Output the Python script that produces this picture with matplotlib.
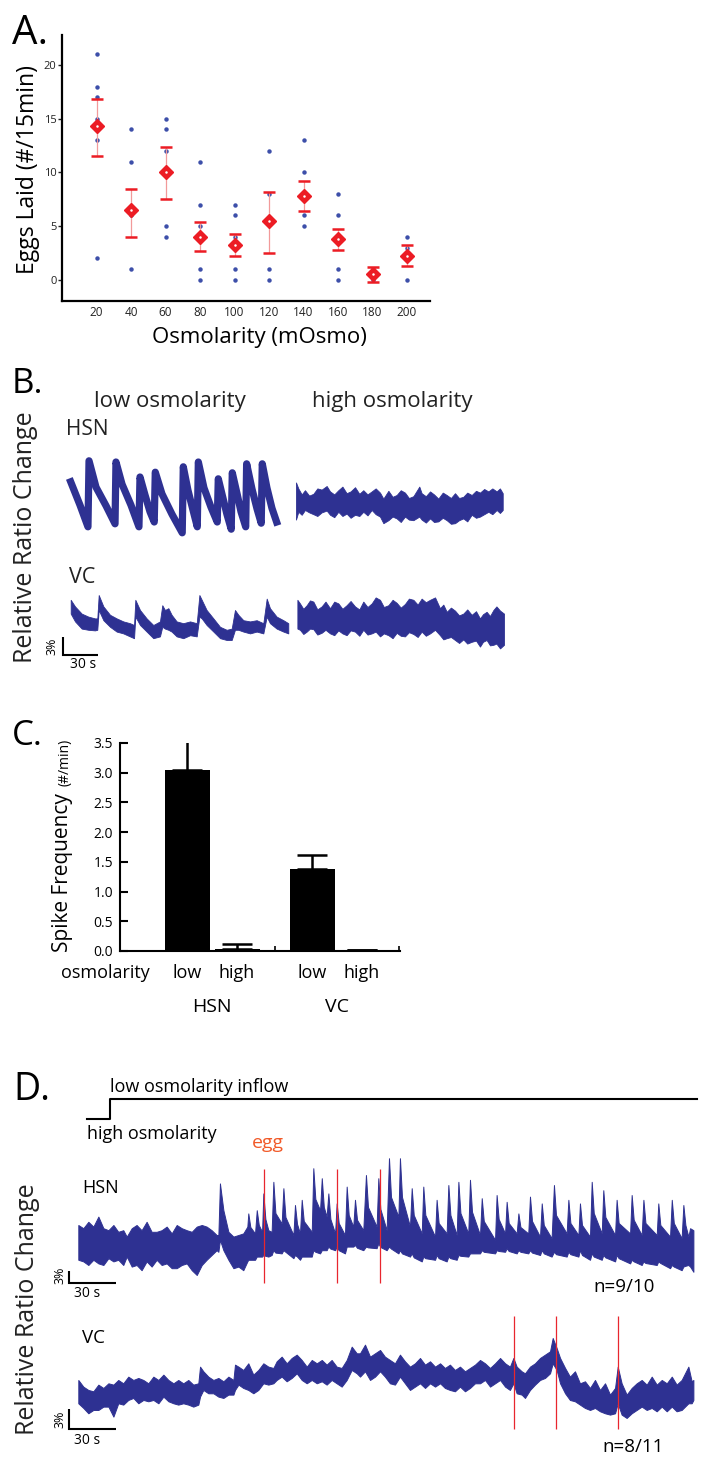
import numpy as np
import matplotlib
matplotlib.use('Agg')
import matplotlib.pyplot as plt
from matplotlib.transforms import blended_transform_factory

# ---- A. eggs laid vs osmolarity ----
osm = [20, 40, 60, 80, 100, 120, 140, 160, 180, 200]
eggs = [[21, 18, 17, 15, 14, 13, 2],
        [14, 11, 6, 1],
        [15, 14, 12, 5, 4],
        [11, 7, 5, 4, 1, 0],
        [7, 6, 4, 1, 0],
        [12, 8, 1, 0],
        [13, 10, 8, 6, 5],
        [8, 6, 1, 0],
        [1, 0],
        [4, 3, 0]]
egg_mean = [14.3, 6.5, 10.0, 4.0, 3.2, 5.5, 7.8, 3.8, 0.5, 2.2]
egg_lo = [11.5, 4.0, 7.55, 2.65, 2.2, 2.45, 6.4, 2.8, -0.2, 1.25]
egg_hi = [16.8, 8.5, 12.4, 5.35, 4.3, 8.2, 9.2, 4.7, 1.2, 3.2]

# ---- B. example traces (time s, upper %, lower %) ----
b_hsn_low_t = [0.6, 8.6, 15.4, 16.3, 22.3, 30.9, 38.6, 39.4, 44.6, 52.3, 59.1,
               60.0, 64.3, 68.6, 72.2, 73.1, 78.8, 87.4, 96.2, 97.1, 101.1, 105.4,
               109.1, 110.0, 114.8, 120.8, 126.2, 127.1, 131.1, 134.5, 138.2, 139.1,
               143.2, 146.6, 150.6, 151.4, 156.0, 160.3, 163.9, 164.8, 168.8, 173.1, 177.1]
b_hsn_low_v = [9.7, 5.8, 2.2, 13.2, 8.8, 5.7, 2.7, 13.0, 9.3, 5.8, 2.2,
               10.5, 7.5, 4.7, 3.0, 11.3, 7.7, 4.3, 1.2, 12.2, 8.3, 5.0,
               2.2, 13.0, 8.7, 5.5, 3.0, 10.2, 7.0, 4.3, 1.8, 11.2,
               7.7, 4.7, 2.2, 12.7, 8.5, 5.2, 2.8, 12.7, 8.7, 5.3, 3.0]

b_hsn_high = [(193.7, 9.6, 3.4), (195.7, 8.6, 4.7), (198.6, 7.6, 4.2), (201.4, 8.3, 5.0),
              (205.0, 7.4, 4.6), (208.6, 7.7, 4.3), (212.0, 8.6, 4.0), (215.7, 8.4, 4.6),
              (220.0, 9.0, 4.9), (222.9, 8.1, 4.2), (226.5, 7.6, 3.8), (230.0, 8.3, 4.7),
              (233.5, 8.9, 4.0), (237.1, 7.8, 4.4), (240.5, 8.1, 3.7), (244.3, 8.8, 4.2),
              (248.0, 7.7, 4.0), (251.4, 8.3, 4.7), (255.0, 7.6, 4.1), (258.6, 8.1, 5.0),
              (262.0, 8.6, 4.3), (265.7, 7.9, 3.9), (268.6, 6.9, 2.8), (272.9, 8.2, 3.3),
              (276.5, 7.2, 3.9), (280.0, 7.5, 3.6), (283.5, 8.3, 3.0), (287.1, 7.9, 3.9),
              (290.5, 7.0, 3.4), (294.3, 7.3, 3.3), (299.4, 8.9, 3.9), (301.4, 7.8, 3.4),
              (305.0, 7.3, 2.9), (308.6, 8.1, 3.6), (312.0, 7.6, 3.0), (315.7, 6.9, 3.1),
              (319.5, 7.9, 3.7), (322.9, 7.5, 3.3), (326.5, 7.0, 2.7), (330.0, 7.8, 2.8),
              (333.5, 7.0, 3.3), (337.1, 7.2, 3.6), (340.5, 7.9, 3.1), (344.3, 7.5, 4.2),
              (348.0, 8.2, 3.7), (351.4, 7.9, 3.9), (355.0, 8.5, 4.3), (358.6, 8.1, 4.7),
              (362.0, 8.6, 4.3), (365.7, 8.1, 5.0), (368.5, 8.6, 4.5), (370.9, 7.8, 5.0)]

b_vc_low = [(0.6, 9.2, 6.9), (4.3, 8.1, 5.6), (10.0, 6.9, 4.4), (15.7, 6.4, 4.2),
            (21.4, 6.1, 4.1), (23.4, 6.1, 4.2), (24.6, 10.0, 7.5), (28.6, 8.1, 5.8),
            (34.3, 6.7, 4.7), (40.0, 6.1, 3.9), (45.7, 5.6, 3.6), (51.4, 5.3, 3.1),
            (54.9, 5.0, 2.8), (56.0, 9.2, 6.4), (60.0, 7.5, 5.0), (65.7, 6.1, 3.9),
            (71.4, 5.0, 2.8), (77.1, 5.6, 3.1), (79.1, 8.3, 4.7), (81.4, 7.5, 4.4),
            (84.3, 7.8, 4.2), (87.1, 6.7, 3.9), (91.4, 5.6, 3.1), (97.1, 5.3, 2.8),
            (102.9, 5.6, 3.3), (108.6, 5.3, 3.1), (110.9, 10.0, 6.4), (112.9, 9.2, 6.1),
            (117.1, 7.5, 5.0), (122.9, 6.1, 3.9), (128.6, 4.7, 2.8), (134.3, 4.2, 2.5),
            (138.6, 4.4, 2.5), (141.4, 7.5, 4.2), (144.3, 6.7, 4.2), (148.6, 5.8, 3.9),
            (154.3, 5.6, 3.6), (160.0, 5.8, 3.9), (165.7, 5.3, 3.6), (168.6, 9.4, 6.4),
            (171.4, 7.8, 5.3), (177.1, 6.4, 4.4), (182.9, 5.8, 3.9), (187.1, 5.3, 3.6)]

b_vc_high = [(194.9, 9.2, 4.4), (197.1, 8.6, 4.2), (200.0, 7.7, 3.5), (202.9, 8.3, 3.9),
             (205.7, 9.1, 4.4), (208.6, 8.9, 4.3), (212.0, 7.6, 3.4), (215.7, 8.1, 3.7),
             (219.0, 8.9, 4.2), (222.9, 7.8, 3.6), (226.5, 8.9, 3.3), (230.0, 8.6, 4.1),
             (233.5, 7.7, 3.6), (237.1, 8.3, 3.3), (240.5, 9.0, 4.1), (244.3, 8.1, 3.9),
             (248.0, 7.6, 3.2), (251.4, 8.9, 4.2), (255.0, 8.0, 3.4), (258.6, 8.6, 3.6),
             (262.0, 9.6, 3.9), (265.7, 9.2, 3.1), (269.0, 8.0, 3.6), (272.9, 8.3, 3.3),
             (276.5, 9.2, 2.8), (280.0, 8.7, 3.7), (283.5, 7.9, 3.2), (287.1, 8.5, 3.1),
             (290.5, 9.4, 3.8), (294.3, 9.2, 3.5), (298.0, 8.4, 3.0), (301.4, 9.4, 3.9),
             (305.0, 8.8, 3.2), (308.6, 9.2, 3.6), (312.9, 9.6, 4.2), (317.1, 7.8, 3.3),
             (320.0, 8.4, 2.6), (322.9, 7.2, 2.8), (326.5, 7.9, 3.0), (330.0, 7.4, 2.5),
             (333.5, 6.6, 2.0), (337.1, 6.9, 2.6), (340.5, 7.6, 1.9), (344.3, 6.7, 2.2),
             (348.0, 7.3, 2.4), (351.4, 6.1, 1.4), (354.0, 6.8, 2.2), (357.1, 7.2, 2.5),
             (360.0, 6.5, 1.6), (362.9, 7.5, 1.7), (365.5, 8.1, 1.9), (368.6, 7.4, 1.1),
             (372.0, 6.9, 1.7)]

# ---- C. spike frequency (#/min) ----
groups = ['HSN', 'VC']
conditions = ['low', 'high', 'low', 'high']
freq_mean = [3.04, 0.04, 1.38, 0.01]
freq_err = [0.52, 0.07, 0.23, 0.0]

# ---- D. osmolarity switch, traces (time s, upper %, lower %) ----
stim_t = [5.7, 20.4, 395.1]
stim_level = [0, 1, 1]

d_hsn = [(0.2, 14.5, 5.8), (3.4, 13.7, 5.4), (6.6, 15.3, 4.5), (9.8, 14.1, 5.8), (13.0, 16.6, 4.9),
         (16.2, 13.7, 4.5), (19.4, 13.2, 6.2), (22.6, 14.5, 5.4), (25.7, 12.8, 5.8), (28.9, 13.2, 4.5),
         (31.1, 11.6, 6.6), (34.3, 13.7, 4.1), (37.4, 14.5, 4.5), (40.6, 13.2, 3.2), (43.8, 15.3, 5.4),
         (47.0, 12.8, 4.1), (50.2, 12.8, 5.8), (53.4, 13.2, 4.5), (56.6, 14.1, 4.9), (59.8, 12.4, 3.7),
         (63.0, 14.5, 3.7), (66.2, 13.7, 4.5), (69.4, 13.2, 4.9), (72.6, 12.8, 3.2), (75.8, 14.1, 2.0),
         (79.0, 14.5, 4.5), (82.1, 14.1, 5.8), (85.3, 13.2, 7.0), (88.5, 12.0, 8.2), (89.6, 12.0, 7.8),
         (90.6, 24.9, 10.8), (92.8, 18.2, 8.2), (96.0, 12.8, 5.8), (99.2, 11.6, 3.7), (102.4, 12.0, 4.1),
         (105.5, 12.4, 3.2), (108.1, 14.1, 5.4), (108.7, 17.4, 5.8), (110.0, 14.0, 5.8),
         (113.0, 12.4, 5.8), (114.1, 18.2, 6.6), (115.4, 14.5, 6.6),
         (117.5, 12.8, 6.6), (118.3, 22.4, 7.0), (119.6, 16.0, 6.8), (121.5, 13.2, 6.6),
         (123.6, 12.8, 7.0), (124.7, 25.3, 8.2), (126.0, 17.5, 7.6),
         (130.0, 14.9, 7.4), (131.1, 23.7, 8.2), (132.4, 16.5, 7.8),
         (137.5, 12.0, 6.2), (138.5, 19.5, 7.0), (139.8, 14.8, 6.6),
         (141.7, 12.4, 5.8), (142.8, 20.8, 6.6), (144.1, 15.5, 6.6),
         (149.2, 12.8, 6.6), (150.2, 28.7, 8.2), (151.5, 21.0, 7.8),
         (154.5, 18.2, 7.4), (155.6, 26.2, 8.2), (156.9, 19.0, 8.2),
         (158.7, 16.6, 8.2), (159.8, 22.4, 9.1), (161.1, 16.0, 8.6),
         (164.1, 12.4, 8.2), (165.1, 19.9, 9.1), (166.4, 15.0, 8.2),
         (170.4, 12.0, 7.4), (171.5, 24.1, 9.1), (172.8, 17.0, 9.1),
         (175.7, 14.1, 9.1), (176.8, 20.8, 9.5), (178.1, 15.8, 8.8),
         (182.1, 13.2, 8.2), (183.8, 27.0, 9.1), (185.1, 19.0, 8.9),
         (190.6, 14.1, 8.7), (191.7, 26.2, 9.9), (193.0, 18.5, 9.0),
         (197.0, 13.2, 8.2), (198.5, 31.2, 9.1), (199.8, 21.5, 8.6),
         (204.5, 16.6, 7.4), (205.5, 31.2, 8.2), (206.8, 21.5, 7.4),
         (211.9, 14.1, 6.6), (213.0, 23.7, 7.4), (214.3, 17.0, 6.4),
         (219.4, 12.4, 5.4), (220.4, 24.1, 6.6), (221.7, 17.0, 6.2),
         (227.9, 11.6, 5.8), (228.9, 20.8, 7.0), (230.2, 15.0, 6.2),
         (235.3, 12.4, 5.4), (236.4, 24.5, 6.6), (237.7, 17.0, 6.2),
         (241.7, 12.0, 5.8), (242.8, 25.3, 7.0), (244.1, 17.5, 6.8),
         (249.1, 12.4, 6.6), (250.2, 25.8, 7.4), (251.5, 17.8, 7.4),
         (256.6, 12.0, 7.4), (257.7, 21.2, 8.2), (259.0, 15.5, 7.8),
         (266.2, 10.8, 7.4), (267.2, 22.0, 8.2), (268.5, 16.0, 8.0),
         (272.6, 12.4, 7.8), (273.6, 20.3, 8.7), (274.9, 15.0, 8.0),
         (280.0, 12.4, 7.4), (281.1, 17.4, 8.2), (282.4, 14.0, 7.8),
         (287.4, 12.4, 7.4), (288.5, 21.6, 8.2), (289.8, 15.5, 7.6),
         (294.9, 11.6, 7.0), (296.0, 19.9, 8.2), (297.3, 14.5, 7.4),
         (302.3, 11.2, 6.6), (303.8, 24.5, 7.8), (305.1, 17.0, 7.2),
         (311.9, 12.4, 6.6), (313.0, 20.8, 7.8), (314.3, 15.0, 7.2),
         (319.4, 12.0, 6.6), (320.4, 19.9, 8.2), (321.7, 14.5, 7.0),
         (326.8, 11.6, 5.8), (327.9, 25.3, 7.4), (329.2, 17.5, 6.6),
         (334.3, 12.4, 5.8), (335.3, 23.2, 7.0), (336.6, 16.5, 6.4),
         (342.8, 12.0, 5.4), (343.8, 20.8, 7.0), (345.1, 15.0, 6.2),
         (352.4, 12.4, 4.9), (353.4, 22.0, 5.8), (354.7, 15.8, 5.4),
         (359.8, 12.0, 4.5), (360.9, 20.8, 5.4), (362.2, 15.0, 5.0),
         (369.4, 12.0, 4.5), (370.4, 19.9, 5.4), (371.7, 14.5, 5.0),
         (377.9, 11.6, 3.7), (379.0, 20.8, 4.5), (380.3, 15.0, 4.1),
         (385.3, 11.2, 3.2), (386.4, 19.5, 4.1), (387.7, 14.5, 4.3),
         (389.6, 11.6, 4.5), (390.7, 13.7, 4.1), (392.8, 13.2, 2.8)]

d_vc = [(0.2, 7.4, 3.9), (3.4, 6.4, 3.2), (6.6, 5.9, 2.4), (9.8, 5.7, 2.9), (13.0, 6.7, 2.9),
        (16.2, 6.2, 3.4), (19.4, 6.9, 3.4), (22.6, 6.7, 1.9), (25.7, 7.4, 3.9), (28.9, 6.9, 3.7),
        (32.1, 7.9, 4.4), (35.3, 7.4, 4.7), (38.5, 7.7, 3.9), (41.7, 7.4, 4.4), (44.9, 6.9, 4.2),
        (48.1, 7.9, 4.4), (51.3, 7.4, 3.9), (54.5, 8.2, 4.9), (57.7, 7.4, 4.2), (60.9, 6.9, 3.9),
        (64.0, 7.4, 3.7), (67.2, 6.9, 3.9), (70.4, 7.4, 3.7), (73.6, 6.7, 3.4), (76.8, 6.9, 3.7),
        (77.9, 9.4, 4.9), (80.0, 8.7, 5.9), (83.2, 7.9, 5.4), (86.4, 7.4, 5.4), (89.6, 7.7, 4.9),
        (92.8, 7.2, 4.7), (96.0, 7.9, 5.2), (99.2, 7.4, 5.2), (100.2, 9.7, 5.9), (102.4, 9.4, 6.7),
        (105.5, 8.9, 6.2), (108.7, 9.9, 5.9), (111.9, 8.2, 5.4), (115.1, 8.9, 5.9), (118.3, 9.9, 6.9),
        (121.5, 9.4, 6.7), (124.7, 9.2, 6.9), (126.8, 10.2, 7.4), (130.0, 10.9, 7.9), (133.2, 9.9, 7.2),
        (136.4, 10.7, 7.7), (139.6, 11.2, 8.4), (142.8, 10.4, 7.4), (146.0, 9.4, 6.9), (149.2, 10.4, 7.4),
        (152.4, 9.9, 6.9), (155.6, 10.4, 7.2), (158.7, 9.7, 6.7), (161.9, 10.4, 7.4), (165.1, 9.4, 6.9),
        (168.3, 9.2, 6.4), (171.5, 10.4, 7.4), (174.7, 12.4, 8.9), (177.9, 11.4, 8.4), (180.0, 11.4, 7.9),
        (183.2, 12.7, 8.7), (186.4, 10.9, 7.4), (189.6, 11.4, 7.9), (192.8, 11.9, 8.7), (195.9, 10.9, 7.9),
        (199.1, 10.4, 6.9), (202.3, 9.9, 6.7), (205.5, 11.2, 7.9), (208.7, 10.2, 6.9), (211.9, 9.4, 5.9),
        (215.1, 9.9, 6.4), (218.3, 10.7, 6.9), (221.5, 9.7, 6.2), (224.7, 10.2, 6.9), (227.9, 9.4, 6.4),
        (231.1, 9.9, 6.9), (234.2, 9.2, 6.2), (237.4, 9.7, 5.9), (240.6, 8.9, 5.7), (243.8, 9.4, 6.4),
        (247.0, 8.7, 5.7), (250.2, 9.2, 6.2), (253.4, 9.7, 6.9), (256.6, 10.4, 6.9), (259.8, 9.9, 7.4),
        (263.0, 9.2, 6.4), (266.2, 9.9, 6.9), (269.4, 10.7, 7.4), (272.6, 9.9, 6.4), (275.7, 9.4, 5.9),
        (277.9, 10.7, 6.9), (280.0, 9.4, 5.4), (283.2, 8.7, 5.2), (285.3, 8.4, 4.7), (288.5, 9.4, 5.9),
        (291.7, 9.9, 6.7), (294.9, 10.7, 7.4), (298.1, 11.2, 7.7), (301.3, 11.7, 8.4), (303.0, 13.7, 9.9),
        (305.5, 12.2, 8.9), (307.7, 10.7, 6.9), (310.9, 9.2, 5.4), (314.0, 7.9, 4.4), (317.2, 8.7, 4.2),
        (320.4, 6.9, 3.7), (323.6, 7.2, 3.2), (326.8, 6.2, 2.9), (330.0, 7.4, 3.2), (333.2, 5.9, 2.7),
        (336.4, 6.9, 2.4), (339.6, 5.2, 2.2), (342.8, 6.2, 2.4), (344.5, 9.4, 3.9), (347.0, 6.9, 2.2),
        (350.2, 5.2, 1.7), (353.4, 6.2, 2.4), (356.6, 6.9, 2.9), (359.8, 7.4, 3.4), (363.0, 6.7, 2.9),
        (366.2, 7.9, 3.2), (369.4, 6.7, 2.7), (372.6, 7.4, 3.4), (375.8, 6.9, 2.7), (379.0, 7.9, 3.4),
        (382.1, 6.7, 2.7), (385.3, 7.4, 2.9), (389.6, 9.4, 3.9), (391.7, 7.2, 3.9), (392.8, 7.4, 4.4)]

hsn_eggs = [119.0, 165.1, 192.8]
vc_eggs = [278.3, 304.9, 344.9]

# ---------------------------------------------------------------
plt.rcParams['font.family'] = ['Open Sans', 'DejaVu Sans']

W, H = 708, 1474
fig = plt.figure(figsize=(W / 100, H / 100), dpi=100)

TRACE = '#2e3192'
DOT = '#3d4fa9'
RED = '#ec1c24'
EGG = '#f15a29'


def px_axes(x0, y0, x1, y1):
    return fig.add_axes([x0 / W, 1 - y1 / H, (x1 - x0) / W, (y1 - y0) / H])


def label(x, y, s, **kw):
    fig.text(x / W, 1 - y / H, s, **kw)


def trace_axes(x0, x1, y0, y1, x_t0, px_s, y_v0, px_pct):
    ax = px_axes(x0, y0, x1, y1)
    ax.set_xlim((x0 - x_t0) / px_s, (x1 - x_t0) / px_s)
    ax.set_ylim((y_v0 - y1) / px_pct, (y_v0 - y0) / px_pct)
    ax.axis('off')
    return ax


def band(ax, rows, lw=0.6):
    t, up, lo = np.array(rows).T
    ax.fill_between(t, lo, up, color=TRACE, lw=lw, edgecolor=TRACE)


def scale_bar(ax, t, lw=1.5):
    ax.plot([t, t, t + 30], [3, 0, 0], color='k', lw=lw, clip_on=False,
            solid_joinstyle='miter', solid_capstyle='butt')


# ---- panel A ----
axa = px_axes(62, 35, 430, 301)
for x, pts in zip(osm, eggs):
    axa.plot([x] * len(pts), pts, 'o', color=DOT, ms=3.2, mec='none')
m = np.array(egg_mean)
eb = axa.errorbar(osm, m, yerr=[m - np.array(egg_lo), np.array(egg_hi) - m],
                  fmt='none', ecolor=RED, elinewidth=0.9, capsize=4.4, capthick=1.8)
eb[2][0].set_color('#f29a9a')
axa.plot(osm, m, 'D', color=RED, ms=7, mec=RED)
axa.plot(osm, m, 'o', color='white', ms=1.8, mec='none')
axa.set_xlim(0, 213.3)
axa.set_ylim(-1.98, 22.8)
axa.set_xticks(osm)
axa.set_yticks([0, 5, 10, 15, 20])
axa.tick_params(axis='x', length=0, labelsize=8.5, pad=3.5, colors='#222222')
axa.tick_params(axis='y', length=3, width=1, labelsize=8, pad=1, colors='#222222')
axa.spines['top'].set_visible(False)
axa.spines['right'].set_visible(False)
axa.spines['left'].set_linewidth(1.6)
axa.spines['bottom'].set_linewidth(1.6)
label(12, 44, 'A.', fontsize=29, va='baseline')
label(28, 170, 'Eggs Laid (#/15min)', fontsize=16.5, rotation=90, ha='center', va='center')
label(259, 343, 'Osmolarity (mOsmo)', fontsize=16, ha='center', va='baseline')

# ---- panel B ----
label(12, 393, 'B.', fontsize=25, va='baseline')
label(170, 407, 'low osmolarity', fontsize=16, ha='center', va='baseline', color='#222222')
label(392, 407, 'high osmolarity', fontsize=16, ha='center', va='baseline', color='#222222')
label(66, 435, 'HSN', fontsize=15, va='baseline', color='#222222')
label(69, 583, 'VC', fontsize=15.5, va='baseline', color='#222222')
label(26, 537, 'Relative Ratio Change', fontsize=18, rotation=90, ha='center', va='center',
      color='#222222')

axb1 = trace_axes(55, 510, 440, 545, 70, 35 / 30, 540, 6)
axb1.plot(b_hsn_low_t, b_hsn_low_v, color=TRACE, lw=5.2, solid_joinstyle='round')
band(axb1, b_hsn_high)

axb2 = trace_axes(55, 510, 585, 660, 70, 35 / 30, 655, 6)
band(axb2, b_vc_low)
band(axb2, b_vc_high)
scale_bar(axb2, -6.0)
label(52, 646, '3%', fontsize=9, rotation=90, ha='center', va='center')
label(70, 668, '30 s', fontsize=10, va='baseline')

# ---- panel C ----
label(12, 745, 'C.', fontsize=25, va='baseline')
axc = px_axes(120, 743, 400, 951)
pos = [0, 1, 2.5, 3.5]
axc.bar(pos, freq_mean, width=0.9, color='k')
axc.errorbar(pos, freq_mean, yerr=[[0] * 4, freq_err], fmt='none', ecolor='k',
             elinewidth=1.8, capsize=10.8, capthick=1.8)
axc.set_xlim(-1.34, 4.26)
axc.set_ylim(0, 3.5)
axc.set_yticks(np.arange(0, 3.51, 0.5))
axc.set_yticklabels(['%.1f' % v for v in np.arange(0, 3.51, 0.5)])
axc.set_xticks([1.75, 4.24])
axc.set_xticklabels([])
axc.tick_params(axis='y', direction='in', length=5.5, width=1.5, labelsize=10, pad=5)
axc.tick_params(axis='x', direction='in', length=3.5, width=1.2)
axc.spines['top'].set_visible(False)
axc.spines['right'].set_visible(False)
axc.spines['left'].set_linewidth(1.5)
axc.spines['bottom'].set_linewidth(1.5)
tr = blended_transform_factory(axc.transData, axc.transAxes)
for p, c in zip(pos, conditions):
    axc.text(p, -(978 - 951) / 208, c, transform=tr, ha='center', va='baseline', fontsize=13)
for p, g in zip([0.5, 3.0], groups):
    axc.text(p, -(1012 - 951) / 208, g, transform=tr, ha='center', va='baseline', fontsize=14)
axc.text(-1.64, -(978 - 951) / 208, 'osmolarity', transform=tr, ha='center',
         va='baseline', fontsize=13)
label(68, 952, 'Spike Frequency', fontsize=15, rotation=90, rotation_mode='anchor',
      ha='left', va='baseline')
label(68, 786, '(#/min)', fontsize=10, rotation=90, rotation_mode='anchor',
      ha='left', va='baseline')

# ---- panel D ----
label(13, 1100, 'D.', fontsize=27, va='baseline')
px_s_d = 47 / 30
axs = trace_axes(60, 705, 1090, 1125, 78, px_s_d, 1119, 20)
axs.step(stim_t, stim_level, where='post', color='k', lw=1.5)
label(110, 1092, 'low osmolarity inflow', fontsize=13, va='baseline')
label(87, 1139, 'high osmolarity', fontsize=13, va='baseline')
label(252, 1148, 'egg', fontsize=14, va='baseline', color=EGG)
label(28, 1309, 'Relative Ratio Change', fontsize=18, rotation=90, ha='center', va='center',
      color='#222222')

axd1 = trace_axes(60, 700, 1150, 1290, 78, px_s_d, 1283, 4)
band(axd1, d_hsn, lw=0.7)
axd1.vlines(hsn_eggs, 0, 28.5, color='#e8262e', lw=0.9)
scale_bar(axd1, -5.7)
label(82, 1193, 'HSN', fontsize=13, va='baseline')
label(60, 1275, '3%', fontsize=9, rotation=90, ha='center', va='center')
label(74, 1297, '30 s', fontsize=10, va='baseline')
label(593, 1292, 'n=9/10', fontsize=13.5, va='baseline')

axd2 = trace_axes(60, 700, 1305, 1440, 78, px_s_d, 1429.3, 20 / 3)
band(axd2, d_vc, lw=0.7)
axd2.vlines(vc_eggs, 0, 17.0, color='#e8262e', lw=0.9)
scale_bar(axd2, -5.7)
label(82, 1343, 'VC', fontsize=13.5, va='baseline')
label(60, 1419, '3%', fontsize=9, rotation=90, ha='center', va='center')
label(74, 1444, '30 s', fontsize=10, va='baseline')
label(602, 1452, 'n=8/11', fontsize=13.5, va='baseline')

fig.savefig('out.png', dpi=100)
